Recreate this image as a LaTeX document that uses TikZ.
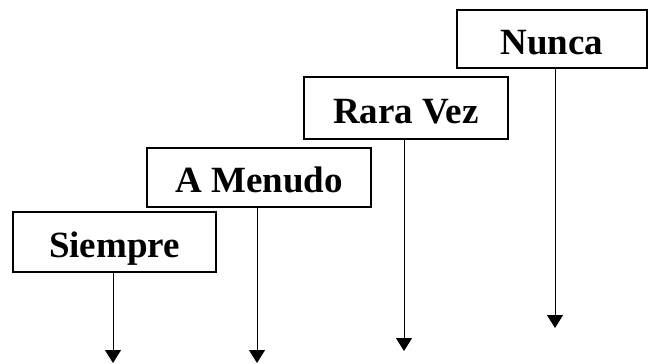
\documentclass[tikz,border=0pt]{standalone}
\usepackage{fontspec}
\setmainfont{Liberation Serif}
\usetikzlibrary{arrows.meta}
\tikzset{
  lbox/.style={draw, line width=2bp, inner sep=0pt, text height=30bp, text depth=0pt, font=\fontsize{37bp}{40bp}\selectfont\bfseries},
  darrow/.style={line width=1bp, -{Triangle[width=16bp,length=13bp]}}
}
\begin{document}
\begin{tikzpicture}[x=1bp,y=-1bp]
\useasboundingbox (0,0) rectangle (648,363);
\node[lbox, minimum width=203bp, minimum height=60bp] (siempre) at (114.5,242) {Siempre};
\node[lbox, minimum width=224bp, minimum height=59bp] (menudo) at (259,177.5) {A Menudo};
\node[lbox, minimum width=204bp, minimum height=62bp] (rara) at (406,108) {Rara Vez};
\node[lbox, minimum width=190bp, minimum height=58bp] (nunca) at (552,39) {Nunca};
\coordinate (t1) at (113,363);
\coordinate (t2) at (257,363);
\coordinate (t3) at (404,351);
\coordinate (t4) at (555,328);
\draw[darrow] (siempre.south -| t1) -- (t1);
\draw[darrow] (menudo.south -| t2) -- (t2);
\draw[darrow] (rara.south -| t3) -- (t3);
\draw[darrow] (nunca.south -| t4) -- (t4);
\end{tikzpicture}
\end{document}
